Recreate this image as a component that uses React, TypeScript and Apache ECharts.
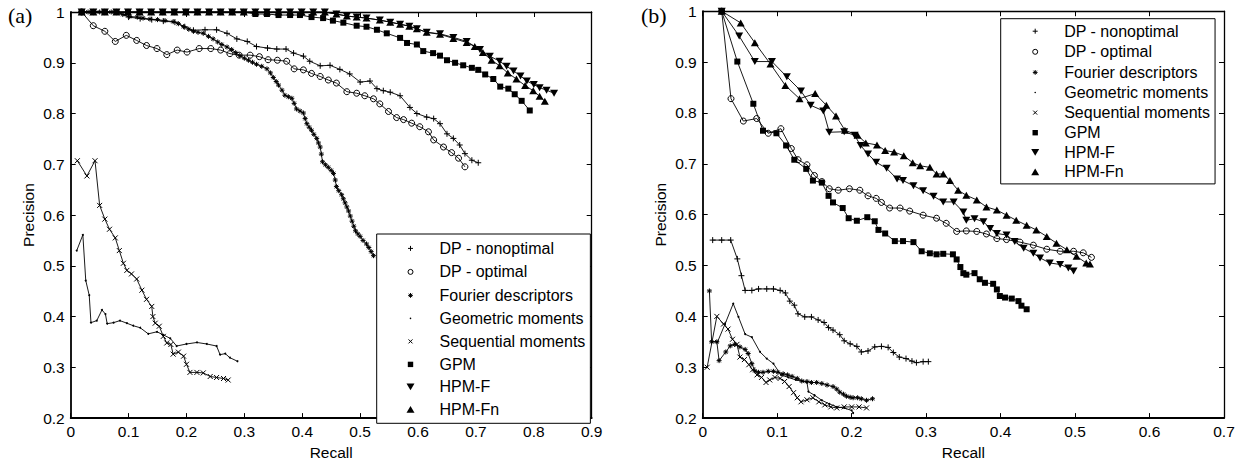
import React, { useEffect, useRef } from "react";
import * as echarts from "echarts";

// ---------- Panel (a) data ----------
const aDpNonX = [0.019, 0.04, 0.06, 0.08, 0.1, 0.12, 0.14, 0.16, 0.18, 0.197, 0.212, 0.232, 0.252, 0.27, 0.287, 0.305, 0.321, 0.34, 0.356, 0.372, 0.385, 0.402, 0.413, 0.431, 0.448, 0.465, 0.482, 0.5, 0.517, 0.529, 0.54, 0.552, 0.569, 0.586, 0.598, 0.615, 0.627, 0.638, 0.65, 0.661, 0.672, 0.681, 0.693, 0.704];
const aDpNonY = [1, 1, 1, 1, 0.99, 0.987, 0.985, 0.982, 0.98, 0.971, 0.964, 0.965, 0.965, 0.958, 0.947, 0.942, 0.932, 0.929, 0.927, 0.927, 0.919, 0.913, 0.903, 0.894, 0.895, 0.887, 0.878, 0.862, 0.864, 0.849, 0.845, 0.842, 0.835, 0.812, 0.8, 0.793, 0.79, 0.78, 0.76, 0.751, 0.738, 0.721, 0.708, 0.703];

const aDpOptX = [0.019, 0.039, 0.059, 0.077, 0.096, 0.114, 0.131, 0.149, 0.166, 0.184, 0.201, 0.222, 0.242, 0.259, 0.275, 0.291, 0.31, 0.326, 0.341, 0.357, 0.373, 0.386, 0.402, 0.416, 0.431, 0.445, 0.459, 0.477, 0.494, 0.508, 0.523, 0.534, 0.549, 0.563, 0.575, 0.589, 0.603, 0.618, 0.627, 0.644, 0.658, 0.67, 0.681];
const aDpOptY = [1, 0.973, 0.962, 0.942, 0.954, 0.944, 0.934, 0.928, 0.916, 0.925, 0.921, 0.928, 0.928, 0.925, 0.918, 0.915, 0.915, 0.912, 0.906, 0.905, 0.903, 0.888, 0.886, 0.879, 0.873, 0.866, 0.86, 0.843, 0.84, 0.835, 0.829, 0.819, 0.804, 0.792, 0.788, 0.781, 0.774, 0.764, 0.748, 0.734, 0.723, 0.712, 0.695];

const aFourierX = [0.019, 0.03, 0.04, 0.05, 0.06, 0.07, 0.08, 0.09, 0.102, 0.115, 0.125, 0.137, 0.15, 0.163, 0.177, 0.186, 0.195, 0.204, 0.212, 0.22, 0.229, 0.238, 0.246, 0.254, 0.261, 0.27, 0.278, 0.285, 0.292, 0.3, 0.307, 0.314, 0.321, 0.33, 0.339, 0.345, 0.35, 0.355, 0.359, 0.365, 0.37, 0.376, 0.382, 0.386, 0.39, 0.396, 0.402, 0.405, 0.408, 0.412, 0.416, 0.42, 0.425, 0.428, 0.431, 0.433, 0.435, 0.44, 0.445, 0.45, 0.454, 0.457, 0.459, 0.463, 0.468, 0.471, 0.474, 0.477, 0.48, 0.483, 0.486, 0.489, 0.492, 0.496, 0.5, 0.505, 0.511, 0.515, 0.519, 0.523];
const aFourierY = [1, 1, 1, 1, 1, 1, 1, 0.995, 0.991, 0.99, 0.988, 0.986, 0.985, 0.983, 0.981, 0.977, 0.971, 0.966, 0.962, 0.96, 0.958, 0.952, 0.947, 0.941, 0.936, 0.931, 0.926, 0.92, 0.914, 0.909, 0.905, 0.901, 0.897, 0.893, 0.888, 0.88, 0.871, 0.863, 0.856, 0.846, 0.836, 0.833, 0.83, 0.82, 0.809, 0.805, 0.801, 0.79, 0.78, 0.773, 0.767, 0.759, 0.751, 0.742, 0.734, 0.72, 0.705, 0.699, 0.694, 0.688, 0.682, 0.669, 0.656, 0.648, 0.64, 0.632, 0.624, 0.616, 0.608, 0.598, 0.588, 0.578, 0.569, 0.563, 0.558, 0.55, 0.543, 0.536, 0.528, 0.52];

const aGeomX = [0.0104, 0.021, 0.026, 0.032, 0.035, 0.045, 0.054, 0.06, 0.063, 0.074, 0.085, 0.097, 0.108, 0.12, 0.134, 0.149, 0.16, 0.172, 0.183, 0.2, 0.218, 0.235, 0.252, 0.258, 0.267, 0.275, 0.288];
const aGeomY = [0.53, 0.561, 0.471, 0.442, 0.388, 0.392, 0.413, 0.405, 0.386, 0.388, 0.392, 0.387, 0.382, 0.378, 0.366, 0.37, 0.364, 0.357, 0.342, 0.346, 0.349, 0.346, 0.342, 0.325, 0.327, 0.319, 0.312];

const aSeqX = [0.0115, 0.028, 0.042, 0.05, 0.059, 0.067, 0.077, 0.084, 0.091, 0.097, 0.105, 0.114, 0.123, 0.131, 0.14, 0.142, 0.146, 0.153, 0.16, 0.166, 0.173, 0.177, 0.186, 0.195, 0.2, 0.206, 0.218, 0.229, 0.241, 0.252, 0.264, 0.272];
const aSeqY = [0.707, 0.677, 0.707, 0.619, 0.592, 0.572, 0.555, 0.53, 0.505, 0.491, 0.484, 0.474, 0.452, 0.434, 0.42, 0.4, 0.387, 0.381, 0.361, 0.348, 0.345, 0.326, 0.33, 0.322, 0.306, 0.29, 0.29, 0.289, 0.282, 0.28, 0.278, 0.275];

const aGpmX = [0.019, 0.039, 0.059, 0.079, 0.099, 0.119, 0.139, 0.159, 0.179, 0.199, 0.219, 0.239, 0.259, 0.279, 0.299, 0.319, 0.339, 0.359, 0.379, 0.396, 0.416, 0.436, 0.453, 0.471, 0.494, 0.511, 0.529, 0.546, 0.569, 0.581, 0.598, 0.609, 0.626, 0.638, 0.65, 0.664, 0.678, 0.693, 0.704, 0.716, 0.73, 0.742, 0.756, 0.767, 0.779, 0.793];
const aGpmY = [1, 1, 1, 1, 1, 1, 1, 1, 1, 1, 1, 1, 1, 1, 1, 0.996, 0.996, 0.994, 0.994, 0.994, 0.99, 0.988, 0.983, 0.979, 0.973, 0.971, 0.965, 0.958, 0.949, 0.939, 0.936, 0.923, 0.919, 0.914, 0.905, 0.9, 0.895, 0.89, 0.886, 0.877, 0.868, 0.853, 0.849, 0.838, 0.825, 0.806];

const aHpmFX = [0.019, 0.039, 0.059, 0.079, 0.099, 0.119, 0.139, 0.159, 0.179, 0.199, 0.219, 0.239, 0.259, 0.279, 0.299, 0.319, 0.339, 0.359, 0.379, 0.399, 0.419, 0.439, 0.459, 0.477, 0.494, 0.511, 0.534, 0.552, 0.569, 0.585, 0.598, 0.615, 0.638, 0.661, 0.684, 0.707, 0.724, 0.741, 0.753, 0.765, 0.777, 0.788, 0.8, 0.81, 0.822, 0.835];
const aHpmFY = [1, 1, 1, 1, 1, 1, 1, 1, 1, 1, 1, 1, 1, 1, 1, 1, 1, 1, 1, 1, 1, 1, 0.996, 0.992, 0.99, 0.988, 0.984, 0.98, 0.976, 0.972, 0.967, 0.96, 0.957, 0.95, 0.942, 0.926, 0.913, 0.903, 0.893, 0.884, 0.874, 0.864, 0.857, 0.851, 0.846, 0.84];

const aHpmFnX = [0.019, 0.039, 0.059, 0.079, 0.099, 0.119, 0.139, 0.159, 0.179, 0.199, 0.219, 0.239, 0.259, 0.279, 0.299, 0.319, 0.339, 0.359, 0.379, 0.399, 0.419, 0.439, 0.459, 0.477, 0.494, 0.511, 0.534, 0.552, 0.569, 0.585, 0.598, 0.615, 0.638, 0.661, 0.684, 0.698, 0.712, 0.727, 0.741, 0.755, 0.77, 0.785, 0.799, 0.81, 0.819];
const aHpmFnY = [1, 1, 1, 1, 1, 1, 1, 1, 1, 1, 1, 1, 1, 1, 1, 1, 1, 1, 1, 1, 1, 1, 0.996, 0.992, 0.99, 0.988, 0.984, 0.98, 0.976, 0.972, 0.967, 0.96, 0.956, 0.948, 0.94, 0.932, 0.92, 0.905, 0.894, 0.88, 0.868, 0.855, 0.845, 0.834, 0.824];

// ---------- Panel (b) data ----------
const bDpNonX = [0.0134, 0.0255, 0.0376, 0.0465, 0.052, 0.057, 0.066, 0.075, 0.086, 0.095, 0.104, 0.111, 0.117, 0.123, 0.128, 0.137, 0.146, 0.155, 0.163, 0.169, 0.175, 0.184, 0.19, 0.198, 0.207, 0.213, 0.222, 0.231, 0.24, 0.249, 0.256, 0.264, 0.273, 0.281, 0.287, 0.296, 0.303];
const bDpNonY = [0.55, 0.55, 0.55, 0.513, 0.48, 0.451, 0.451, 0.454, 0.454, 0.454, 0.451, 0.446, 0.43, 0.422, 0.405, 0.399, 0.399, 0.393, 0.388, 0.378, 0.373, 0.364, 0.352, 0.346, 0.341, 0.33, 0.332, 0.34, 0.341, 0.339, 0.329, 0.32, 0.317, 0.312, 0.309, 0.311, 0.311];

const bDpOptX = [0.0255, 0.038, 0.0546, 0.0725, 0.088, 0.105, 0.119, 0.128, 0.14, 0.15, 0.16, 0.17, 0.182, 0.197, 0.211, 0.222, 0.233, 0.24, 0.251, 0.265, 0.278, 0.296, 0.314, 0.327, 0.341, 0.354, 0.368, 0.381, 0.395, 0.408, 0.426, 0.444, 0.462, 0.48, 0.498, 0.511, 0.522];
const bDpOptY = [1, 0.828, 0.784, 0.789, 0.76, 0.769, 0.73, 0.708, 0.698, 0.677, 0.665, 0.651, 0.648, 0.651, 0.648, 0.637, 0.632, 0.624, 0.613, 0.613, 0.607, 0.599, 0.593, 0.583, 0.567, 0.568, 0.567, 0.562, 0.553, 0.551, 0.546, 0.54, 0.532, 0.528, 0.528, 0.525, 0.516];

const bFourierX = [0.009, 0.012, 0.019, 0.022, 0.031, 0.037, 0.043, 0.05, 0.057, 0.061, 0.066, 0.07, 0.075, 0.081, 0.088, 0.095, 0.101, 0.108, 0.114, 0.12, 0.127, 0.133, 0.14, 0.146, 0.153, 0.16, 0.167, 0.175, 0.18, 0.184, 0.189, 0.193, 0.198, 0.202, 0.208, 0.213, 0.22, 0.228];
const bFourierY = [0.45, 0.35, 0.35, 0.313, 0.33, 0.342, 0.345, 0.34, 0.335, 0.327, 0.307, 0.293, 0.29, 0.29, 0.292, 0.292, 0.29, 0.287, 0.285, 0.282, 0.278, 0.273, 0.272, 0.27, 0.27, 0.268, 0.265, 0.262, 0.257, 0.251, 0.247, 0.243, 0.241, 0.24, 0.24, 0.238, 0.235, 0.238];

const bGeomX = [0.012, 0.02, 0.03, 0.041, 0.048, 0.057, 0.066, 0.077, 0.086, 0.095, 0.105, 0.115, 0.125, 0.135, 0.14, 0.142, 0.15, 0.16, 0.17, 0.18, 0.19, 0.2, 0.202];
const bGeomY = [0.35, 0.35, 0.385, 0.425, 0.399, 0.365, 0.359, 0.33, 0.317, 0.307, 0.285, 0.28, 0.275, 0.272, 0.27, 0.252, 0.245, 0.235, 0.228, 0.222, 0.22, 0.215, 0.21];

const bSeqX = [0.006, 0.019, 0.028, 0.034, 0.04, 0.046, 0.05, 0.056, 0.062, 0.067, 0.073, 0.079, 0.085, 0.09, 0.097, 0.104, 0.11, 0.116, 0.122, 0.127, 0.132, 0.14, 0.148, 0.156, 0.164, 0.172, 0.18, 0.19, 0.2, 0.21, 0.22];
const bSeqY = [0.3, 0.4, 0.385, 0.375, 0.355, 0.345, 0.32, 0.315, 0.305, 0.295, 0.285, 0.28, 0.27, 0.275, 0.28, 0.278, 0.272, 0.262, 0.25, 0.24, 0.232, 0.236, 0.24, 0.232, 0.226, 0.222, 0.22, 0.222, 0.222, 0.222, 0.22];

const bGpmX = [0.0255, 0.0465, 0.068, 0.081, 0.099, 0.112, 0.123, 0.139, 0.148, 0.16, 0.169, 0.175, 0.188, 0.196, 0.207, 0.221, 0.231, 0.236, 0.245, 0.258, 0.269, 0.283, 0.294, 0.305, 0.314, 0.323, 0.336, 0.341, 0.346, 0.35, 0.354, 0.365, 0.372, 0.379, 0.39, 0.395, 0.399, 0.406, 0.415, 0.424, 0.428, 0.435];
const bGpmY = [1, 0.901, 0.818, 0.765, 0.76, 0.736, 0.708, 0.69, 0.667, 0.663, 0.637, 0.624, 0.613, 0.593, 0.588, 0.595, 0.587, 0.57, 0.563, 0.548, 0.548, 0.546, 0.528, 0.524, 0.522, 0.523, 0.522, 0.512, 0.497, 0.485, 0.482, 0.485, 0.473, 0.466, 0.464, 0.453, 0.44, 0.437, 0.435, 0.43, 0.421, 0.414];

const bHpmFX = [0.0255, 0.049, 0.07, 0.093, 0.113, 0.132, 0.145, 0.162, 0.17, 0.19, 0.204, 0.212, 0.222, 0.233, 0.247, 0.261, 0.269, 0.283, 0.296, 0.31, 0.323, 0.337, 0.35, 0.354, 0.365, 0.377, 0.386, 0.395, 0.408, 0.419, 0.431, 0.444, 0.453, 0.466, 0.48, 0.491, 0.498];
const bHpmFY = [1, 0.951, 0.901, 0.901, 0.871, 0.843, 0.815, 0.804, 0.762, 0.763, 0.756, 0.736, 0.719, 0.703, 0.691, 0.67, 0.667, 0.657, 0.647, 0.636, 0.625, 0.625, 0.605, 0.589, 0.592, 0.586, 0.573, 0.563, 0.56, 0.547, 0.534, 0.524, 0.515, 0.505, 0.502, 0.495, 0.489];

const bHpmFnX = [0.0255, 0.051, 0.07, 0.091, 0.111, 0.13, 0.151, 0.166, 0.179, 0.191, 0.208, 0.219, 0.234, 0.245, 0.257, 0.27, 0.282, 0.292, 0.305, 0.314, 0.323, 0.332, 0.343, 0.354, 0.368, 0.381, 0.395, 0.408, 0.421, 0.435, 0.448, 0.462, 0.475, 0.489, 0.502, 0.515, 0.52];
const bHpmFnY = [1, 0.977, 0.938, 0.896, 0.854, 0.828, 0.838, 0.815, 0.794, 0.766, 0.756, 0.741, 0.737, 0.726, 0.723, 0.716, 0.702, 0.696, 0.693, 0.68, 0.68, 0.667, 0.648, 0.638, 0.629, 0.615, 0.609, 0.599, 0.589, 0.579, 0.57, 0.557, 0.544, 0.531, 0.518, 0.505, 0.503];

// ---------- labels ----------
const seriesNames = ["DP - nonoptimal", "DP - optimal", "Fourier descriptors", "Geometric moments", "Sequential moments", "GPM", "HPM-F", "HPM-Fn"];
const panelLabels = ["(a)", "(b)"];
const xAxisName = "Recall";
const yAxisName = "Precision";

const FONT = '"Liberation Sans", Arial, Helvetica, sans-serif';
const SERIF = '"Liberation Serif", "Times New Roman", Times, serif';

type Mark = { symbol: string; size: number | number[]; kind: "stroke" | "fill" | "hollow"; legendIcon: string };

const MARKS: Mark[] = [
  { symbol: "path://M0 5L10 5M5 0L5 10", size: 6, kind: "stroke", legendIcon: "path://M0 0M48 16M21.5 8L26.5 8M24 5.5L24 10.5" },
  { symbol: "circle", size: 6, kind: "hollow", legendIcon: "path://M0 0M48 16M26.5 8A2.5 2.5 0 1 1 21.5 8A2.5 2.5 0 1 1 26.5 8Z" },
  { symbol: "path://M0 5L10 5M5 0L5 10M1.5 1.5L8.5 8.5M1.5 8.5L8.5 1.5", size: 5, kind: "stroke", legendIcon: "path://M0 0M48 16M21.6 8L26.4 8M24 5.6L24 10.4M22.3 6.3L25.7 9.7M22.3 9.7L25.7 6.3" },
  { symbol: "circle", size: 2, kind: "fill", legendIcon: "path://M0 0M48 16M24.8 8A0.8 0.8 0 1 1 23.2 8A0.8 0.8 0 1 1 24.8 8Z" },
  { symbol: "path://M0 0L10 10M0 10L10 0", size: 5, kind: "stroke", legendIcon: "path://M0 0M48 16M22 6L26 10M22 10L26 6" },
  { symbol: "rect", size: 6, kind: "fill", legendIcon: "path://M0 0M48 16M21.3 5.3L26.7 5.3L26.7 10.7L21.3 10.7Z" },
  { symbol: "path://M0 0L10 0L5 9Z", size: [8, 7], kind: "fill", legendIcon: "path://M0 0M48 16M20 4.7L28 4.7L24 11.4Z" },
  { symbol: "path://M5 0L10 9L0 9Z", size: [8, 7], kind: "fill", legendIcon: "path://M0 0M48 16M24 4.6L28 11.3L20 11.3Z" },
];

function pairs(xs: number[], ys: number[]) {
  return xs.map((x, i) => [x, ys[i]]);
}

function itemStyleFor(kind: string) {
  if (kind === "stroke") return { color: "#000", borderColor: "#000", borderWidth: 1 };
  if (kind === "hollow") return { color: "rgba(0,0,0,0)", borderColor: "#000", borderWidth: 1 };
  return { color: "#000", borderColor: "#000", borderWidth: 0 };
}

function makeSeries(panel: number, datasets: number[][][]) {
  return datasets.map((d, i) => ({
    type: "line",
    name: seriesNames[i],
    xAxisIndex: panel * 2,
    yAxisIndex: panel * 2,
    data: d,
    symbol: MARKS[i].symbol,
    symbolSize: MARKS[i].size,
    showAllSymbol: true,
    clip: false,
    silent: true,
    lineStyle: { color: "#000", width: 0.9 },
    itemStyle: itemStyleFor(MARKS[i].kind),
    emphasis: { disabled: true },
    z: 2 + i,
  }));
}

function legendData() {
  return seriesNames.map((n, i) => ({
    name: n,
    icon: MARKS[i].legendIcon,
    itemStyle: itemStyleFor(MARKS[i].kind),
  }));
}

function axes(grid: number, xmax: number) {
  const tick = { inside: true, length: 5, lineStyle: { color: "#000", width: 1 } };
  const label = { color: "#000", fontSize: 15.5, fontFamily: FONT };
  const nameStyle = { color: "#000", fontSize: 15.5, fontFamily: FONT };
  const x = [
    {
      gridIndex: grid, type: "value", min: 0, max: xmax, interval: 0.1, position: "bottom",
      axisLine: { show: true, onZero: false, lineStyle: { color: "#000", width: 1.8 } },
      axisTick: tick, axisLabel: { ...label, margin: 5 }, splitLine: { show: false },
      name: xAxisName, nameLocation: "middle", nameGap: 15, nameTextStyle: nameStyle,
    },
    {
      gridIndex: grid, type: "value", min: 0, max: xmax, interval: 0.1, position: "top",
      axisLine: { show: true, onZero: false, lineStyle: { color: "#000", width: 1.3 } },
      axisTick: tick, axisLabel: { show: false }, splitLine: { show: false },
    },
  ];
  const y = [
    {
      gridIndex: grid, type: "value", min: 0.2, max: 1, interval: 0.1, position: "left",
      axisLine: { show: true, onZero: false, lineStyle: { color: "#000", width: 1.8 } },
      axisTick: tick, axisLabel: { ...label, margin: 6 }, splitLine: { show: false },
      name: yAxisName, nameLocation: "middle", nameGap: 34, nameRotate: 90, nameTextStyle: nameStyle,
    },
    {
      gridIndex: grid, type: "value", min: 0.2, max: 1, interval: 0.1, position: "right",
      axisLine: { show: true, onZero: false, lineStyle: { color: "#000", width: 1.3 } },
      axisTick: tick, axisLabel: { show: false }, splitLine: { show: false },
    },
  ];
  return { x, y };
}

export default function App() {
  const ref = useRef<HTMLDivElement>(null);
  useEffect(() => {
    if (!ref.current) return;
    const chart = echarts.init(ref.current, null, { renderer: "svg" });
    const ax0 = axes(0, 0.9);
    const ax1 = axes(1, 0.7);
    const seriesA = makeSeries(0, [
      pairs(aDpNonX, aDpNonY), pairs(aDpOptX, aDpOptY), pairs(aFourierX, aFourierY), pairs(aGeomX, aGeomY),
      pairs(aSeqX, aSeqY), pairs(aGpmX, aGpmY), pairs(aHpmFX, aHpmFY), pairs(aHpmFnX, aHpmFnY),
    ]);
    const seriesB = makeSeries(1, [
      pairs(bDpNonX, bDpNonY), pairs(bDpOptX, bDpOptY), pairs(bFourierX, bFourierY), pairs(bGeomX, bGeomY),
      pairs(bSeqX, bSeqY), pairs(bGpmX, bGpmY), pairs(bHpmFX, bHpmFY), pairs(bHpmFnX, bHpmFnY),
    ]);
    const legendText = { color: "#000", fontSize: 16, fontFamily: FONT, lineHeight: 16 };
    chart.setOption({
      animation: false,
      backgroundColor: "#fff",
      grid: [
        { left: 70.7, top: 12, width: 521, height: 410.7, containLabel: false },
        { left: 702.7, top: 11.2, width: 521.3, height: 410.2, containLabel: false },
      ],
      xAxis: [...ax0.x, ...ax1.x],
      yAxis: [...ax0.y, ...ax1.y],
      legend: [
        {
          left: 376.7, top: 234, orient: "vertical", padding: [5.9, 5, 5.9, 9.3],
          itemWidth: 48, itemHeight: 16, itemGap: 6.5, borderColor: "#000", borderWidth: 1,
          backgroundColor: "#fff", textStyle: legendText, data: legendData(), selectedMode: false, z: 20,
        },
        {
          left: 1000.7, top: 18.7, orient: "vertical", padding: [4, 5, 4, 10],
          itemWidth: 48, itemHeight: 16, itemGap: 3.6, borderColor: "#000", borderWidth: 1,
          backgroundColor: "#fff", textStyle: legendText, data: legendData(), selectedMode: false, z: 20,
        },
      ],
      graphic: [
        { type: "text", x: 8, y: 15.5, style: { text: panelLabels[0], fontSize: 22, fontFamily: SERIF, fill: "#000", verticalAlign: "middle", align: "left" } },
        { type: "text", x: 641, y: 15.5, style: { text: panelLabels[1], fontSize: 22, fontFamily: SERIF, fill: "#000", verticalAlign: "middle", align: "left" } },
      ],
      series: [...seriesA, ...seriesB],
    });
    return () => chart.dispose();
  }, []);
  return (
    <div
      ref={ref}
      style={{ position: "fixed", left: 0, top: 0, width: 1241, height: 465, background: "#fff" }}
    />
  );
}
